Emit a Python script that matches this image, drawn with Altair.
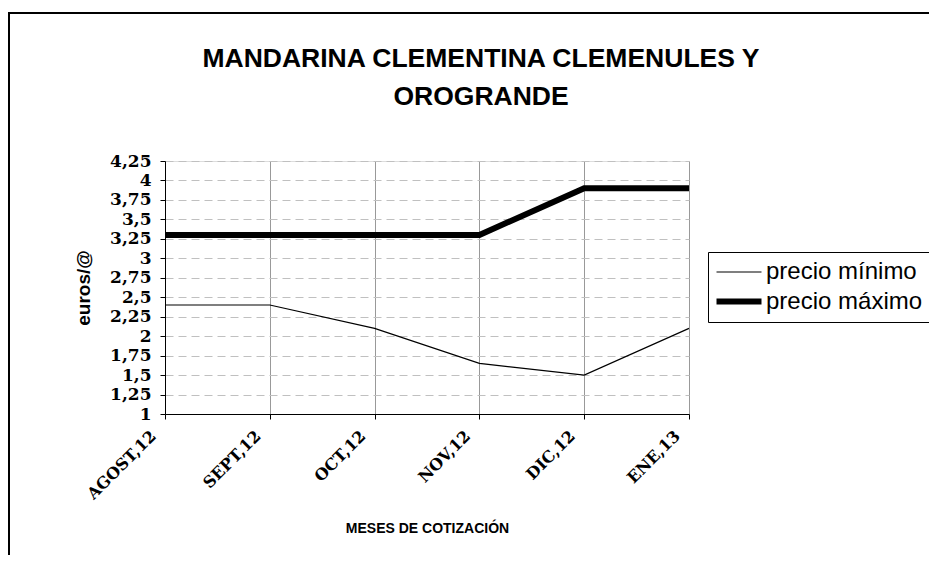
import altair as alt
import pandas as pd

meses = ["AGOST,12", "SEPT,12", "OCT,12", "NOV,12", "DIC,12", "ENE,13"]
precio_minimo = [2.4, 2.4, 2.1, 1.65, 1.5, 2.1]
precio_maximo = [3.3, 3.3, 3.3, 3.3, 3.9, 3.9]
series = ["precio mínimo", "precio máximo"]
y_ticks = [1, 1.25, 1.5, 1.75, 2, 2.25, 2.5, 2.75, 3, 3.25, 3.5, 3.75, 4, 4.25]

rows = []
for i, m in enumerate(meses):
    rows.append({"mes": m, "serie": series[0], "valor": precio_minimo[i]})
    rows.append({"mes": m, "serie": series[1], "valor": precio_maximo[i]})
df = pd.DataFrame(rows)

serif = "DejaVu Serif"
sans = "Liberation Sans"

lines = alt.Chart(df).mark_line(color="black").encode(
    x=alt.X(
        "mes:N",
        sort=meses,
        scale=alt.Scale(type="point", padding=0),
        axis=alt.Axis(
            title="MESES DE COTIZACIÓN",
            titleFont=sans,
            titleFontSize=14,
            titleFontWeight="bold",
            titleColor="black",
            titlePadding=20,
            labelAngle=-45,
            labelAlign="right",
            labelBaseline="middle",
            labelFont=serif,
            labelFontWeight="bold",
            labelFontSize=16,
            labelColor="black",
            labelPadding=14,
            labelOffset=-12,
            tickSize=5,
            tickColor="black",
            domainColor="black",
            grid=True,
            gridColor="#999999",
            gridWidth=1,
        ),
    ),
    y=alt.Y(
        "valor:Q",
        scale=alt.Scale(domain=[1, 4.25], nice=False, zero=False),
        axis=alt.Axis(
            values=y_ticks,
            labelExpr="replace(datum.value + '', '.', ',')",
            labelFont=serif,
            labelFontWeight="bold",
            labelFontSize=17,
            labelColor="black",
            labelPadding=9,
            labelOverlap=False,
            tickSize=5,
            tickColor="black",
            domainColor="black",
            grid=True,
            gridColor="#c0c0c0",
            gridDash=[8, 5],
            title="euros/@",
            titleFont=sans,
            titleFontSize=19,
            titleFontWeight="bold",
            titleColor="black",
            titlePadding=16,
        ),
    ),
    strokeWidth=alt.StrokeWidth(
        "serie:N",
        scale=alt.Scale(domain=series, range=[1.2, 6]),
        legend=alt.Legend(
            title=None,
            orient="none",
            legendX=543,
            legendY=91,
            strokeColor="black",
            padding=8,
            symbolType="M-2,0H2",
            symbolSize=506,
            symbolOffset=8.5,
            symbolStrokeColor="black",
            labelFont=sans,
            labelFontSize=24,
            labelColor="black",
            labelOffset=12.5,
            rowPadding=3,
        ),
    ),
    detail="serie:N",
)

border = alt.Chart(pd.DataFrame({"a": [0]})).mark_rect(
    fill=None, stroke="black", strokeWidth=2
).encode(
    x=alt.value(-156), x2=alt.value(1000), y=alt.value(-148), y2=alt.value(1000)
)

chart = alt.layer(border, lines).properties(
    width=524,
    height=253,
    autosize=alt.AutoSizeParams(type="none"),
    padding={"left": 157, "top": 153, "right": 240, "bottom": 141},
    title=alt.TitleParams(
        text=["MANDARINA CLEMENTINA CLEMENULES Y", "OROGRANDE"],
        font=sans,
        fontSize=26.5,
        fontWeight="bold",
        color="black",
        lineHeight=38,
        anchor="middle",
        dx=54,
        offset=-98,
    ),
).configure_view(strokeWidth=0).configure(background="white")

chart.save("out.html", embed_options={"renderer": "svg", "actions": False})
